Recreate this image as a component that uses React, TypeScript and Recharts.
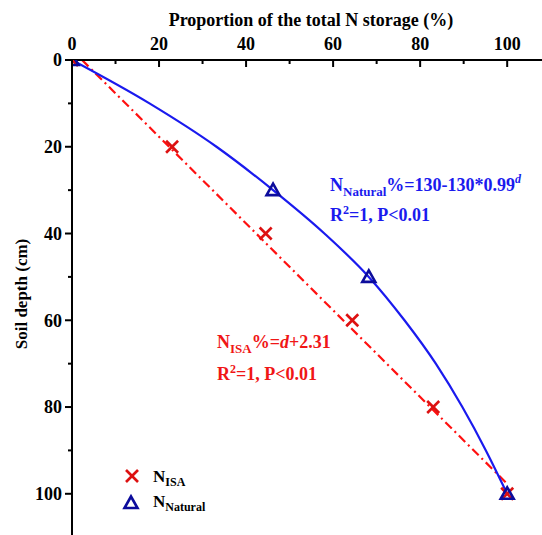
import React from 'react';
import { ComposedChart, Line, Scatter, XAxis, YAxis } from 'recharts';

// measured points
const isaDepth = [0, 20, 40, 60, 80, 100];
const isaPct = [0, 23, 44.5, 64.4, 83, 100];
const naturalDepth = [0, 30, 50, 100];
const naturalPct = [0, 46.2, 68.2, 100];

// fitted curves
const naturalFitDepth = [0, 10, 20, 30, 40, 50, 60, 70, 80, 90, 100];
const naturalFitPct = [0, 17.8, 33.2, 46.2, 58, 68.2, 76.4, 83.6, 89.7, 95.1, 100];
const isaFitDepth = [0, 97.69];
const isaFitPct = [2.31, 100];

const xTicks = [0, 10, 20, 30, 40, 50, 60, 70, 80, 90, 100];
const yTicks = [0, 10, 20, 30, 40, 50, 60, 70, 80, 90, 100];

const FONT = '"Liberation Serif", "Times New Roman", serif';
const RED = '#f01616';
const BLUE = '#1a1aee';
const NAVY = '#0c0c9c';

const toPoints = (xs: number[], ys: number[]) => xs.map((x, i) => ({ x, y: ys[i] }));

const isaData = toPoints(isaPct, isaDepth);
const naturalData = toPoints(naturalPct, naturalDepth);
const naturalFit = toPoints(naturalFitPct, naturalFitDepth);
const isaFit = toPoints(isaFitPct, isaFitDepth);

const Cross = ({ cx, cy }: any) => (
  <g stroke="#dd1111" strokeWidth={2.6}>
    <line x1={cx - 6} y1={cy - 6} x2={cx + 6} y2={cy + 6} />
    <line x1={cx - 6} y1={cy + 6} x2={cx + 6} y2={cy - 6} />
  </g>
);

const Triangle = ({ cx, cy }: any) => (
  <polygon
    points={`${cx},${cy - 6.5} ${cx - 6.5},${cy + 5} ${cx + 6.5},${cy + 5}`}
    fill="none"
    stroke={NAVY}
    strokeWidth={2.6}
  />
);

const TopTick = ({ x, y, payload }: any) => {
  const major = payload.value % 20 === 0;
  return (
    <g>
      <line x1={x} y1={y} x2={x} y2={y + (major ? 7 : 4)} stroke="#000" strokeWidth={2} />
      {major && (
        <text x={x} y={y - 10} textAnchor="middle" fontFamily={FONT} fontWeight="bold" fontSize={18} fill="#000">
          {payload.value}
        </text>
      )}
    </g>
  );
};

const LeftTick = ({ x, y, payload }: any) => {
  const major = payload.value % 20 === 0;
  return (
    <g>
      <line x1={x - (major ? 7 : 4)} y1={y} x2={x} y2={y} stroke="#000" strokeWidth={2} />
      {major && (
        <text x={x - 10} y={y} dy="0.35em" textAnchor="end" fontFamily={FONT} fontWeight="bold" fontSize={18} fill="#000">
          {payload.value}
        </text>
      )}
    </g>
  );
};

export default function App() {
  return (
    <div style={{ position: 'absolute', left: 0, top: 0, width: 542, height: 535, background: '#fff' }}>
      <ComposedChart width={542} height={535} margin={{ top: 0, right: 0, bottom: 0, left: 0 }}>
        <XAxis
          type="number"
          dataKey="x"
          orientation="top"
          domain={[0, 108]}
          ticks={xTicks}
          interval={0}
          height={60}
          tickSize={0}
          tickMargin={0}
          tickLine={false}
          tick={<TopTick />}
          axisLine={{ stroke: '#000', strokeWidth: 2 }}
          allowDataOverflow
        />
        <YAxis
          type="number"
          dataKey="y"
          reversed
          domain={[0, 109.5]}
          ticks={yTicks}
          interval={0}
          width={72}
          tickSize={0}
          tickMargin={0}
          tickLine={false}
          tick={<LeftTick />}
          axisLine={{ stroke: '#000', strokeWidth: 2 }}
          allowDataOverflow
        />
        <Line
          data={isaFit}
          dataKey="y"
          type="linear"
          stroke="#ff1010"
          strokeWidth={2.2}
          strokeDasharray="9 4 2 4"
          dot={false}
          isAnimationActive={false}
        />
        <Line
          data={naturalFit}
          dataKey="y"
          type="monotone"
          stroke={BLUE}
          strokeWidth={2.2}
          dot={false}
          isAnimationActive={false}
        />
        <Scatter data={isaData} dataKey="y" shape={<Cross />} isAnimationActive={false} />
        <Scatter data={naturalData} dataKey="y" shape={<Triangle />} isAnimationActive={false} />
      </ComposedChart>
      <svg width={542} height={535} style={{ position: 'absolute', left: 0, top: 0, pointerEvents: 'none' }}>
        <g fontFamily={FONT} fontWeight="bold">
          <text x={311} y={26} textAnchor="middle" fontSize={18} fill="#000">
            Proportion of the total N storage (%)
          </text>
          <text x={27} y={294} textAnchor="middle" fontSize={17} fill="#000" transform="rotate(-90 27 294)">
            Soil depth (cm)
          </text>

          <text x={330} y={191} fontSize={18} fill={BLUE}>
            N<tspan fontSize={13} dy={5}>Natural</tspan>
            <tspan dy={-5}>%=130-130*0.99</tspan>
            <tspan fontSize={12} fontStyle="italic" dy={-8}>d</tspan>
          </text>
          <text x={330} y={221} fontSize={18} fill={BLUE}>
            R<tspan fontSize={12} dy={-7}>2</tspan>
            <tspan dy={7}>=1, P&lt;0.01</tspan>
          </text>

          <text x={217} y={348} fontSize={18} fill={RED}>
            N<tspan fontSize={13} dy={5}>ISA</tspan>
            <tspan dy={-5}>%=</tspan>
            <tspan fontStyle="italic">d</tspan>
            <tspan>+2.31</tspan>
          </text>
          <text x={217} y={380} fontSize={18} fill={RED}>
            R<tspan fontSize={12} dy={-7}>2</tspan>
            <tspan dy={7}>=1, P&lt;0.01</tspan>
          </text>

          <Cross cx={132} cy={476} />
          <text x={153} y={482} fontSize={17} fill="#000">
            N<tspan fontSize={12} dy={4}>ISA</tspan>
          </text>
          <Triangle cx={131} cy={503} />
          <text x={153} y={507} fontSize={17} fill="#000">
            N<tspan fontSize={12} dy={4}>Natural</tspan>
          </text>
        </g>
      </svg>
    </div>
  );
}
